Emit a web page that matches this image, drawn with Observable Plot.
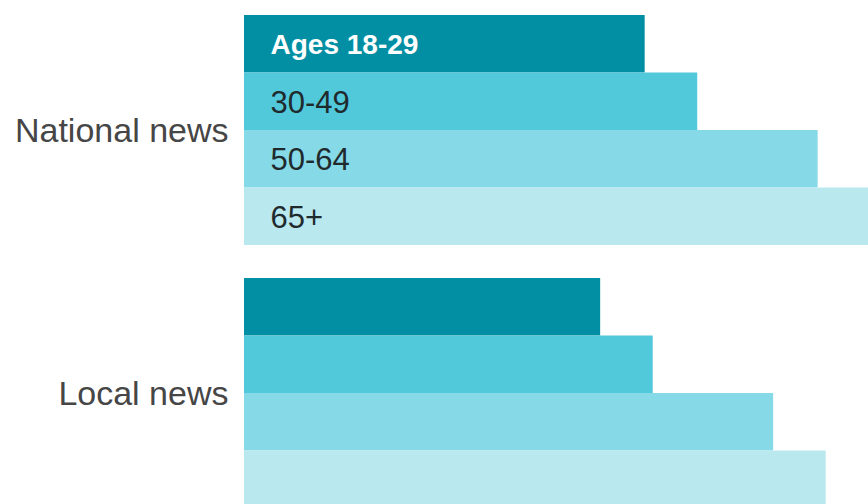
<!DOCTYPE html>
<html><head><meta charset="utf-8">
<script src="https://cdn.jsdelivr.net/npm/d3@7"></script>
<script src="https://cdn.jsdelivr.net/npm/@observablehq/plot@0.6"></script>
<style>html,body{margin:0;padding:0;background:#fff;overflow:hidden;}</style>
</head><body><div id="chart"></div>
<script>
const groups = ["National news", "Local news"];
const ages = ["18-29", "30-49", "50-64", "65+"];
const ageLabels = ["Ages 18-29", "30-49", "50-64", "65+"];
const nationalValues = [54.9, 62.1, 78.6, 85.8];
const localValues = [48.8, 56.0, 72.5, 79.7];
const colors = ["#028fa4", "#52c8db", "#86d9e7", "#bae8ef"];

const GAP = 33 / 57.5;
const STEP = ages.length + GAP;
const rows = [];
[nationalValues, localValues].forEach((vals, gi) =>
  vals.forEach((v, ai) => rows.push({
    group: groups[gi], age: ages[ai], label: ageLabels[ai], value: v,
    gi, ai, y1: gi * STEP + ai, y2: gi * STEP + ai + 1
  }))
);
const groupRows = groups.map((g, gi) => ({group: g, y: gi * STEP + ages.length / 2}));
const mid = d => (d.y1 + d.y2) / 2;

const chart = Plot.plot({
  width: 868, height: 504,
  marginLeft: 244, marginRight: 0, marginTop: 15, marginBottom: 0,
  x: {domain: [0, 85.5], axis: null},
  y: {domain: [0, 2 * STEP - GAP], range: [15, 508], axis: null},
  color: {domain: ages, range: colors},
  style: {fontFamily: "'Liberation Sans', Arial, sans-serif", background: "#fff", overflow: "hidden"},
  marks: [
    Plot.rect(rows, {x1: 0, x2: "value", y1: "y1", y2: "y2", fill: "age"}),
    Plot.text(rows.filter(d => d.gi === 0 && d.ai === 0), {
      x: 0, y: mid, text: "label", textAnchor: "start", dx: 26, dy: 1,
      fontSize: 28, fontWeight: "bold", fill: "#ffffff"
    }),
    Plot.text(rows.filter(d => d.gi === 0 && d.ai > 0), {
      x: 0, y: mid, text: "label", textAnchor: "start", dx: 26, dy: 1,
      fontSize: 31, fill: "#1f2a2d"
    }),
    Plot.text(groupRows, {
      x: 0, y: "y", text: "group", textAnchor: "end", dx: -16, dy: 1,
      fontSize: 34, fill: "#464646"
    })
  ]
});
document.getElementById("chart").appendChild(chart);
</script>
</body></html>
